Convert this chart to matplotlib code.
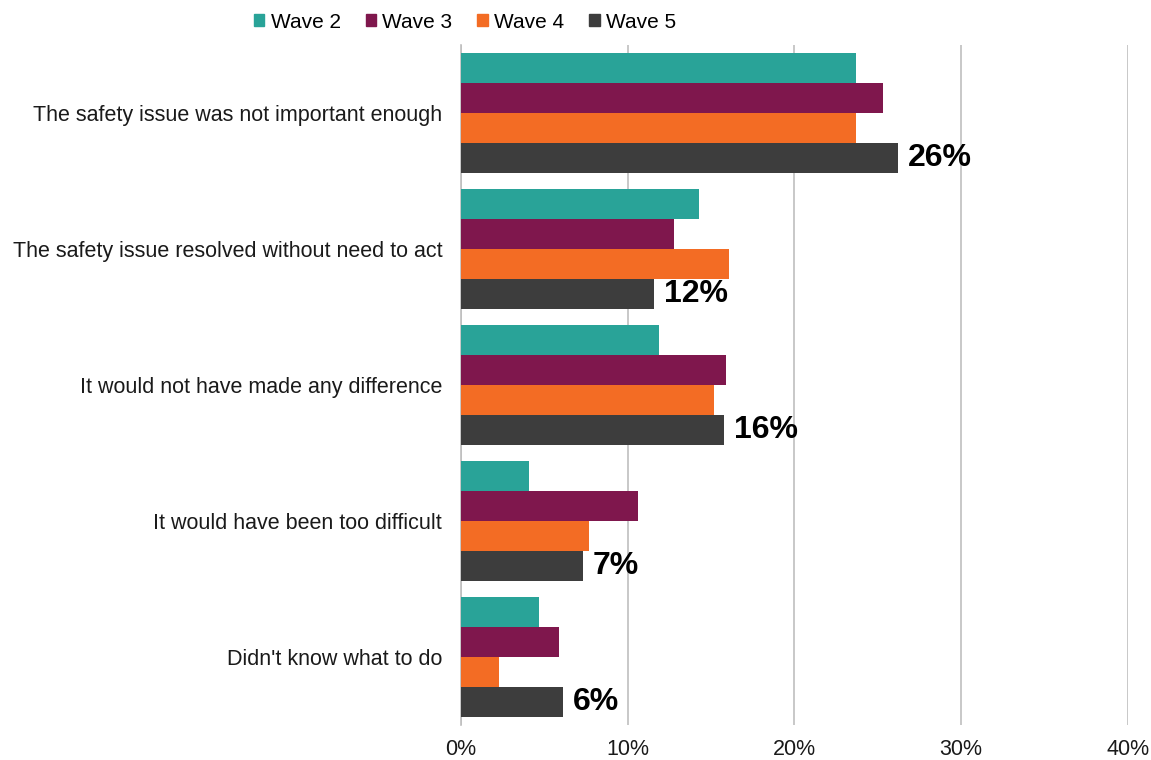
import numpy as np
import matplotlib.pyplot as plt
from matplotlib.patches import Patch

plt.rcParams['font.family'] = ['Liberation Sans', 'DejaVu Sans']

reasons = ["The safety issue was not important enough",
           "The safety issue resolved without need to act",
           "It would not have made any difference",
           "It would have been too difficult",
           "Didn't know what to do"]
waves = ["Wave 2", "Wave 3", "Wave 4", "Wave 5"]
wave2 = [23.7, 14.3, 11.9, 4.1, 4.7]
wave3 = [25.3, 12.8, 15.9, 10.6, 5.9]
wave4 = [23.7, 16.1, 15.2, 7.7, 2.3]
wave5 = [26.2, 11.6, 15.8, 7.3, 6.1]
colors = ["#29a398", "#7f174d", "#f36c24", "#3d3d3d"]

fig = plt.figure(figsize=(11.51, 7.6), dpi=100)
ax = fig.add_axes([0.4005, 0.046, 0.5795, 0.895])

n = len(reasons)
y = np.arange(n)
h = 0.22
series = [wave2, wave3, wave4, wave5]
for i, (vals, c) in enumerate(zip(series, colors)):
    pos = y + (i - 1.5) * h
    bars = ax.barh(pos, vals, height=h, color=c, zorder=3)
    if i == 3:
        # only the latest wave gets a value label
        for b, v in zip(bars, vals):
            ax.text(v + 0.6, b.get_y() + h / 2, f"{round(v)}%", va='center',
                    ha='left', fontsize=23, fontweight='bold', color='black')

ax.set_ylim(n - 0.5, -0.5)
ax.set_xlim(0, 40)
ax.set_xticks([0, 10, 20, 30, 40])
ax.set_xticklabels([f"{t}%" for t in [0, 10, 20, 30, 40]])
ax.set_yticks(y)
ax.set_yticklabels(reasons)
ax.tick_params(axis='both', length=0, labelsize=15.5, colors='#1a1a1a')
ax.tick_params(axis='y', pad=13.5)
ax.tick_params(axis='x', pad=10)
ax.grid(axis='x', color='#bfbfbf', linewidth=1.2, zorder=0)
for s in ['top', 'right', 'bottom']:
    ax.spines[s].set_visible(False)
ax.spines['left'].set_color('#bfbfbf')
ax.spines['left'].set_linewidth(1.2)

handles = [Patch(color=c, label=w) for c, w in zip(colors, waves)]
fig.legend(handles=handles, loc='center', bbox_to_anchor=(0.404, 0.971), ncol=4,
           frameon=False, fontsize=15, handlelength=0.5, handleheight=0.5,
           handletextpad=0.3, columnspacing=1.2)

fig.savefig("out.png", dpi=100)
